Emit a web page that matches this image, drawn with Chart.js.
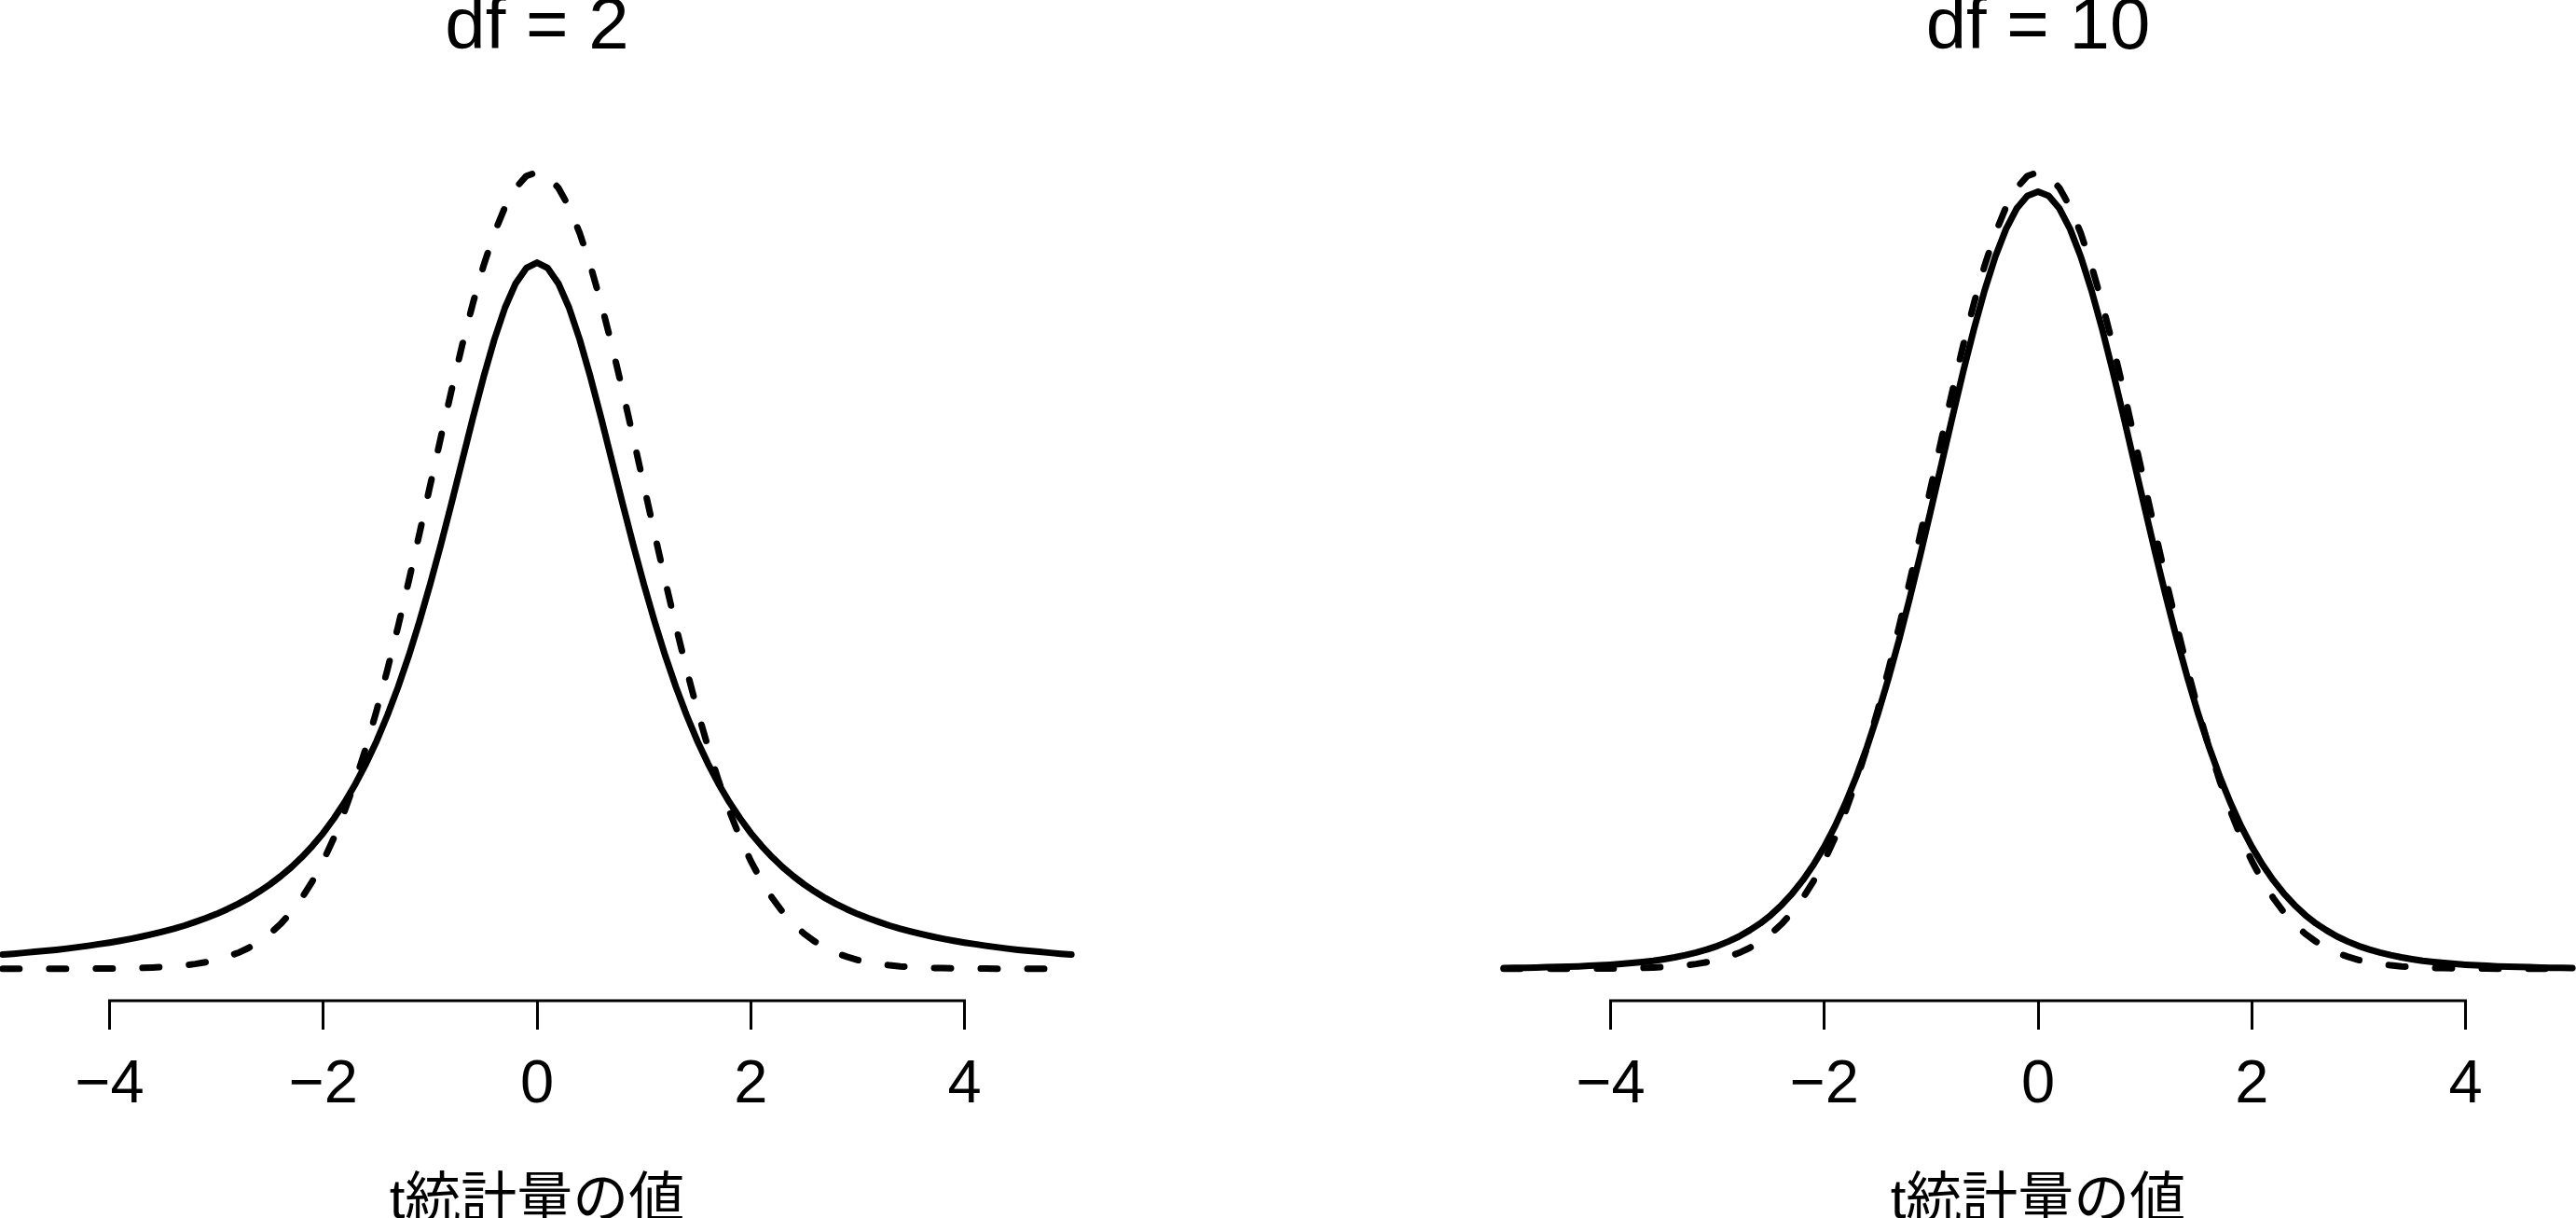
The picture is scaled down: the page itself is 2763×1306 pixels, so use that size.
<!DOCTYPE html>
<html>
<head>
<meta charset="utf-8">
<script src="https://cdn.jsdelivr.net/npm/chart.js@4.4.1/dist/chart.umd.min.js"></script>
<style>
  html, body { margin: 0; padding: 0; background: #ffffff; }
  body { width: 2763px; height: 1306px; position: relative; overflow: hidden; }
  canvas { position: absolute; }
  #c1 { left: -43px; top: -16px; }
  #c2 { left: 1567px; top: -16px; }
</style>
</head>
<body>
<canvas id="c1" width="1238" height="1400"></canvas>
<canvas id="c2" width="1238" height="1400"></canvas>
<script>
// ---- data ----
const xs = [
  -5.0,-4.9,-4.8,-4.7,-4.6,-4.5,-4.4,-4.3,-4.2,-4.1,
  -4.0,-3.9,-3.8,-3.7,-3.6,-3.5,-3.4,-3.3,-3.2,-3.1,
  -3.0,-2.9,-2.8,-2.7,-2.6,-2.5,-2.4,-2.3,-2.2,-2.1,
  -2.0,-1.9,-1.8,-1.7,-1.6,-1.5,-1.4,-1.3,-1.2,-1.1,
  -1.0,-0.9,-0.8,-0.7,-0.6,-0.5,-0.4,-0.3,-0.2,-0.1,
  0.0,
  0.1,0.2,0.3,0.4,0.5,0.6,0.7,0.8,0.9,1.0,
  1.1,1.2,1.3,1.4,1.5,1.6,1.7,1.8,1.9,2.0,
  2.1,2.2,2.3,2.4,2.5,2.6,2.7,2.8,2.9,3.0,
  3.1,3.2,3.3,3.4,3.5,3.6,3.7,3.8,3.9,4.0,
  4.1,4.2,4.3,4.4,4.5,4.6,4.7,4.8,4.9,5.0
];

// standard normal density (dashed curve, both panels)
const normalDensity = [
  0.0000,0.0000,0.0000,0.0000,0.0000,0.0000,0.0000,0.0000,0.0001,0.0001,
  0.0001,0.0002,0.0003,0.0004,0.0006,0.0009,0.0012,0.0017,0.0024,0.0033,
  0.0044,0.0060,0.0079,0.0104,0.0136,0.0175,0.0224,0.0283,0.0355,0.0440,
  0.0540,0.0656,0.0790,0.0940,0.1109,0.1295,0.1497,0.1714,0.1942,0.2179,
  0.2420,0.2661,0.2897,0.3123,0.3332,0.3521,0.3683,0.3814,0.3910,0.3970,
  0.3989,
  0.3970,0.3910,0.3814,0.3683,0.3521,0.3332,0.3123,0.2897,0.2661,0.2420,
  0.2179,0.1942,0.1714,0.1497,0.1295,0.1109,0.0940,0.0790,0.0656,0.0540,
  0.0440,0.0355,0.0283,0.0224,0.0175,0.0136,0.0104,0.0079,0.0060,0.0044,
  0.0033,0.0024,0.0017,0.0012,0.0009,0.0006,0.0004,0.0003,0.0002,0.0001,
  0.0001,0.0001,0.0000,0.0000,0.0000,0.0000,0.0000,0.0000,0.0000,0.0000
];

// t density, df = 2 (solid curve, left panel)
const tDensityDf2 = [
  0.0071,0.0075,0.0080,0.0085,0.0090,0.0095,0.0101,0.0108,0.0115,0.0123,
  0.0131,0.0140,0.0150,0.0161,0.0173,0.0186,0.0200,0.0216,0.0234,0.0253,
  0.0274,0.0298,0.0324,0.0353,0.0386,0.0422,0.0463,0.0508,0.0559,0.0616,
  0.0680,0.0753,0.0834,0.0925,0.1027,0.1141,0.1269,0.1411,0.1567,0.1739,
  0.1925,0.2123,0.2331,0.2545,0.2758,0.2963,0.3150,0.3310,0.3432,0.3509,
  0.3536,
  0.3509,0.3432,0.3310,0.3150,0.2963,0.2758,0.2545,0.2331,0.2123,0.1925,
  0.1739,0.1567,0.1411,0.1269,0.1141,0.1027,0.0925,0.0834,0.0753,0.0680,
  0.0616,0.0559,0.0508,0.0463,0.0422,0.0386,0.0353,0.0324,0.0298,0.0274,
  0.0253,0.0234,0.0216,0.0200,0.0186,0.0173,0.0161,0.0150,0.0140,0.0131,
  0.0123,0.0115,0.0108,0.0101,0.0095,0.0090,0.0085,0.0080,0.0075,0.0071
];

// t density, df = 10 (solid curve, right panel)
const tDensityDf10 = [
  0.0004,0.0005,0.0005,0.0006,0.0008,0.0009,0.0010,0.0012,0.0015,0.0017,
  0.0020,0.0024,0.0029,0.0034,0.0040,0.0048,0.0057,0.0068,0.0081,0.0096,
  0.0114,0.0136,0.0161,0.0192,0.0227,0.0269,0.0319,0.0377,0.0444,0.0522,
  0.0611,0.0714,0.0831,0.0963,0.1111,0.1274,0.1454,0.1648,0.1857,0.2076,
  0.2304,0.2535,0.2766,0.2991,0.3203,0.3397,0.3566,0.3704,0.3807,0.3870,
  0.3891,
  0.3870,0.3807,0.3704,0.3566,0.3397,0.3203,0.2991,0.2766,0.2535,0.2304,
  0.2076,0.1857,0.1648,0.1454,0.1274,0.1111,0.0963,0.0831,0.0714,0.0611,
  0.0522,0.0444,0.0377,0.0319,0.0269,0.0227,0.0192,0.0161,0.0136,0.0114,
  0.0096,0.0081,0.0068,0.0057,0.0048,0.0040,0.0034,0.0029,0.0024,0.0020,
  0.0017,0.0015,0.0012,0.0010,0.0009,0.0008,0.0006,0.0005,0.0005,0.0004
];

const tickValues = [-4, -2, 0, 2, 4];
const tickLabels = ['\u22124', '\u22122', '0', '2', '4'];
const panelTitles = ['df = 2', 'df = 10'];
const axisTitle = 't統計量の値';

// ---- drawing ----
const LATIN = '"Liberation Sans", Arial, Helvetica, sans-serif';
const MIXED = '"Liberation Sans", "Noto Sans CJK JP", sans-serif';

const axisLinePlugin = {
  id: 'axisLine',
  afterDraw(chart) {
    const sx = chart.scales.x;
    const ctx = chart.ctx;
    const y = chart.chartArea.bottom;
    ctx.save();
    ctx.strokeStyle = '#000';
    ctx.lineWidth = 3;
    ctx.lineCap = 'square';
    ctx.beginPath();
    ctx.moveTo(sx.getPixelForValue(tickValues[0]), y);
    ctx.lineTo(sx.getPixelForValue(tickValues[tickValues.length - 1]), y);
    ctx.stroke();
    ctx.restore();
  }
};

function makeChart(id, title, tVals) {
  const toPts = vals => xs.map((x, i) => ({ x: x, y: vals[i] }));
  return new Chart(document.getElementById(id), {
    type: 'line',
    data: {
      datasets: [
        {
          label: 'normal',
          data: toPts(normalDensity),
          borderColor: '#000',
          borderWidth: 7,
          borderDash: [18, 32],
          borderCapStyle: 'round',
          borderJoinStyle: 'round',
          pointRadius: 0,
          tension: 0,
          fill: false,
          clip: false
        },
        {
          label: 't',
          data: toPts(tVals),
          borderColor: '#000',
          borderWidth: 7,
          borderCapStyle: 'round',
          borderJoinStyle: 'round',
          pointRadius: 0,
          tension: 0,
          fill: false,
          clip: false
        }
      ]
    },
    options: {
      responsive: false,
      maintainAspectRatio: false,
      animation: false,
      events: [],
      layout: { padding: { top: 0, bottom: 56, left: 0, right: 0 } },
      plugins: {
        legend: { display: false },
        tooltip: { enabled: false },
        title: {
          display: true,
          text: title,
          color: '#000',
          font: { family: LATIN, size: 78, weight: 'normal', lineHeight: 1.2 },
          padding: { top: 0, bottom: 70.4 }
        }
      },
      scales: {
        x: {
          type: 'linear',
          min: -5.4,
          max: 5.4,
          afterBuildTicks: s => { s.ticks = tickValues.map(v => ({ value: v })); },
          ticks: {
            color: '#000',
            font: { family: LATIN, size: 65, lineHeight: 1.2 },
            padding: 21,
            maxRotation: 0,
            autoSkip: false,
            callback: (v) => tickLabels[tickValues.indexOf(v)]
          },
          grid: {
            display: true,
            drawOnChartArea: false,
            drawTicks: true,
            tickLength: 31,
            color: '#000',
            lineWidth: 3
          },
          border: { display: false },
          title: {
            display: true,
            text: axisTitle,
            color: '#000',
            font: { family: MIXED, size: 60, lineHeight: 1.2 },
            padding: { top: 29, bottom: 3 }
          }
        },
        y: {
          type: 'linear',
          display: false,
          min: -0.016,
          max: 0.416
        }
      }
    },
    plugins: [axisLinePlugin]
  });
}

makeChart('c1', panelTitles[0], tDensityDf2);
makeChart('c2', panelTitles[1], tDensityDf10);
</script>
</body>
</html>
